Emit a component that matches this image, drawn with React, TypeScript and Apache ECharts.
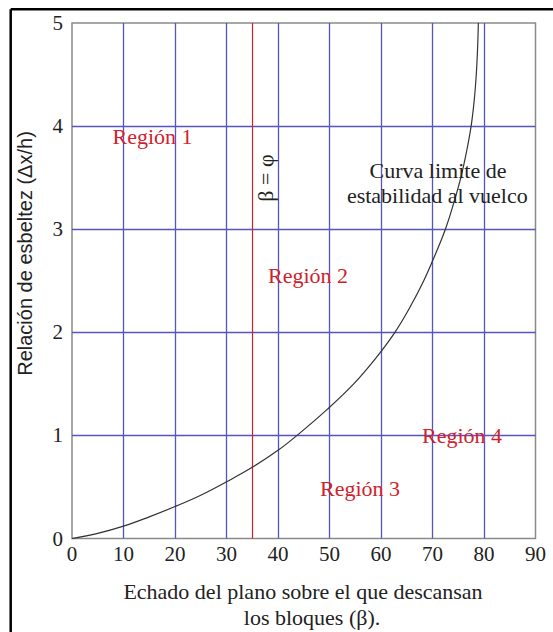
import React, { useEffect, useRef } from "react";
import * as echarts from "echarts";

// Dip of the plane on which the blocks rest (degrees) and slenderness ratio Δx/h
// along the toppling stability limit curve.
const betaValues = [0, 5, 10, 15, 20, 25, 30, 35, 40, 43.7, 49.5, 54.7, 59, 62.7, 65.7, 68.3, 70.5, 72.5, 74.1, 75.5, 76.6, 77.5, 78.1, 78.5, 78.75, 78.9];
const ratioValues = [0, 0.05, 0.12, 0.21, 0.31, 0.42, 0.55, 0.69, 0.855, 1.0, 1.25, 1.5, 1.75, 2.0, 2.25, 2.5, 2.75, 3.0, 3.25, 3.5, 3.75, 4.0, 4.25, 4.5, 4.75, 5.0];

// Friction angle line (β = φ)
const frictionAngle = 35;

const xTicks = [0, 10, 20, 30, 40, 50, 60, 70, 80, 90];
const yTicks = [0, 1, 2, 3, 4, 5];

const regionLabels = ["Región 1", "Región 2", "Región 3", "Región 4"];
const curveLabel = ["Curva limite de", "estabilidad al vuelco"];
const xTitle = ["Echado del plano sobre el que descansan", "los bloques (β)."];
const yTitle = "Relación de esbeltez (Δx/h)";

const SERIF = '"Liberation Serif", "Times New Roman", serif';
const SANS = '"Liberation Sans", Arial, sans-serif';
const RED = "#d0222c";
const BLUE = "#5555c2";
const INK = "#222";

export default function App() {
  const ref = useRef<HTMLDivElement>(null);

  useEffect(() => {
    if (!ref.current) return;
    const chart = echarts.init(ref.current, undefined, { renderer: "svg" });

    const curve = betaValues.map((b, i) => [b, ratioValues[i]]);
    const serifText = (text: string, x: number, y: number, fill: string, extra: any = {}) => ({
      type: "text",
      x,
      y,
      z: 10,
      ...extra,
      style: {
        text,
        fill,
        font: `22px ${SERIF}`,
        align: "center",
        verticalAlign: "middle",
      },
    });

    chart.setOption({
      animation: false,
      backgroundColor: "#fff",
      grid: {
        left: 72,
        top: 23,
        right: 17.5,
        bottom: 93.5,
        show: true,
        borderColor: "#8a8a8a",
        borderWidth: 1.5,
        backgroundColor: "transparent",
      },
      xAxis: {
        type: "value",
        min: xTicks[0],
        max: xTicks[xTicks.length - 1],
        interval: 10,
        axisLine: { show: false },
        axisTick: { show: false },
        axisLabel: {
          margin: 5,
          color: INK,
          fontFamily: SERIF,
          fontSize: 21,
        },
        splitLine: {
          show: true,
          showMinLine: false,
          showMaxLine: false,
          lineStyle: { color: BLUE, width: 1.3 },
        },
      },
      yAxis: {
        type: "value",
        min: yTicks[0],
        max: yTicks[yTicks.length - 1],
        interval: 1,
        axisLine: { show: false },
        axisTick: { show: false },
        axisLabel: {
          margin: 9,
          color: INK,
          fontFamily: SERIF,
          fontSize: 21,
        },
        splitLine: {
          show: true,
          showMinLine: false,
          showMaxLine: false,
          lineStyle: { color: BLUE, width: 1.3 },
        },
      },
      series: [
        {
          type: "line",
          data: curve,
          smooth: 0.4,
          showSymbol: false,
          symbol: "none",
          lineStyle: { color: "#333", width: 1.2 },
          z: 5,
          markLine: {
            silent: true,
            symbol: "none",
            label: { show: false },
            lineStyle: { color: RED, width: 1.2, type: "solid" },
            data: [{ xAxis: frictionAngle }],
          },
        },
      ],
      graphic: [
        // outer frame
        { type: "line", shape: { x1: 10.7, y1: 9.3, x2: 560, y2: 9.3 }, style: { stroke: "#000", lineWidth: 2.5 } },
        { type: "line", shape: { x1: 10.7, y1: 9.3, x2: 10.7, y2: 640 }, style: { stroke: "#000", lineWidth: 2.5 } },
        serifText(regionLabels[0], 152.5, 136.5, RED),
        serifText(regionLabels[1], 308, 275.5, RED),
        serifText(regionLabels[2], 360, 488.5, RED),
        serifText(regionLabels[3], 462, 435.5, RED),
        serifText(curveLabel[0], 438, 170.5, INK),
        serifText(curveLabel[1], 437.3, 195, INK),
        serifText("β = φ", 265, 178, INK, { rotation: Math.PI / 2 }),
        serifText(xTitle[0], 303, 591.5, INK),
        serifText(xTitle[1], 312, 617.5, INK),
        {
          type: "text",
          x: 25,
          y: 253.5,
          rotation: Math.PI / 2,
          z: 10,
          style: {
            text: yTitle,
            fill: INK,
            font: `20px ${SANS}`,
            align: "center",
            verticalAlign: "middle",
          },
        },
      ],
    });

    return () => chart.dispose();
  }, []);

  return (
    <div
      ref={ref}
      style={{ position: "fixed", left: 0, top: 0, width: 553, height: 632, background: "#fff" }}
    />
  );
}
